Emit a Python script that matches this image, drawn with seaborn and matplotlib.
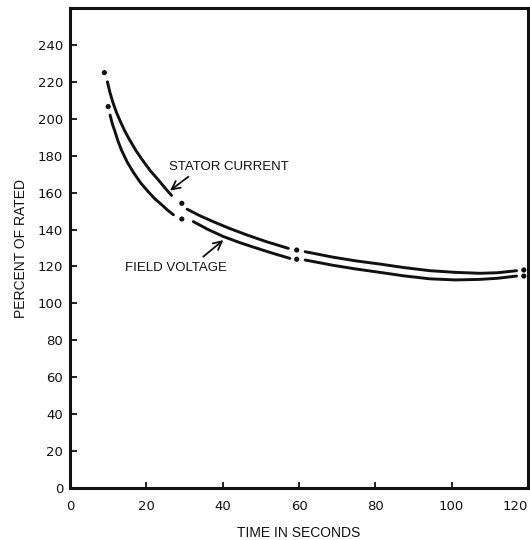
import matplotlib
matplotlib.use("Agg")
import matplotlib.pyplot as plt
import pandas as pd
import seaborn as sns

# ---- data ----
# Stator current: curve segments (gaps around the plotted points)
stator_seg_time = [9.8, 10.5, 11.3, 12.2, 13.1, 14.3, 15.5, 17.3, 19.2, 21.1, 23.1, 24.9, 26.6,
                   30.7, 34.0, 37.5, 41.8, 46.3, 51.5, 57.2,
                   61.6, 69.0, 75.0, 81.2, 87.5, 94.3, 101.0, 107.4, 112.0, 117.0]
stator_seg_pct = [220, 214.0, 208.5, 203.3, 199, 193.6, 189, 182.7, 177, 171.7, 167, 162.5, 158.5,
                  151, 147.5, 144.3, 140.6, 137.1, 133.4, 129.8,
                  128, 125, 123.0, 121.3, 119.4, 117.7, 116.8, 116.3, 116.6, 117.7]
stator_seg_id = [1] * 13 + [2] * 7 + [3] * 10
stator_pt_time = [9.0, 29.3, 59.4, 118.9]
stator_pt_pct = [225, 154.2, 128.9, 118.1]

# Field voltage
field_seg_time = [10.5, 11.1, 11.8, 12.6, 13.5, 15.0, 16.6, 18.5, 20.5, 22.2, 24.0, 25.5, 27.1,
                  32.3, 36.2, 40.2, 44.5, 48.9, 53.2, 57.6,
                  61.6, 69.0, 75.0, 81.2, 87.5, 94.3, 101.0, 107.4, 112.0, 117.0]
field_seg_pct = [202, 197.2, 193, 187.8, 183, 176.5, 171, 165.3, 160.5, 156.7, 153.5, 150.6, 148,
                 144.3, 140.0, 136.2, 132.9, 129.9, 127.1, 124.4,
                 123.5, 120.6, 118.6, 116.8, 114.9, 113.3, 112.7, 113.0, 113.6, 114.8]
field_seg_id = [1] * 13 + [2] * 7 + [3] * 10
field_pt_time = [10.0, 29.3, 59.4, 118.9]
field_pt_pct = [206.6, 145.7, 123.9, 114.8]

x_ticks = [0, 20, 40, 60, 80, 100, 120]
y_ticks = [0, 20, 40, 60, 80, 100, 120, 140, 160, 180, 200, 220, 240]
x_label = "TIME IN SECONDS"
y_label = "PERCENT OF RATED"
stator_label = "STATOR CURRENT"
field_label = "FIELD VOLTAGE"

# ---- build tables ----
curves = pd.concat([
    pd.DataFrame({"time": stator_seg_time, "pct": stator_seg_pct,
                  "unit": [f"s{i}" for i in stator_seg_id]}),
    pd.DataFrame({"time": field_seg_time, "pct": field_seg_pct,
                  "unit": [f"f{i}" for i in field_seg_id]}),
], ignore_index=True)
points = pd.DataFrame({"time": stator_pt_time + field_pt_time,
                       "pct": stator_pt_pct + field_pt_pct})

sns.set_theme(style="white")
plt.rcParams["font.family"] = ["Liberation Sans", "DejaVu Sans"]
ink = "#111111"

fig = plt.figure(figsize=(5.3, 5.4), dpi=100)
ax = fig.add_axes([70 / 530, 52 / 540, 458 / 530, 480 / 540])

sns.lineplot(data=curves, x="time", y="pct", units="unit", estimator=None,
             sort=False, color=ink, lw=2.1, ax=ax, legend=False)
sns.scatterplot(data=points, x="time", y="pct", color=ink, s=14,
                edgecolor="none", ax=ax, legend=False)

ax.set_xlim(0, 120)
ax.set_ylim(0, 260)
ax.set_xticks(x_ticks)
ax.set_yticks(y_ticks)
ax.set_xticklabels([str(t) for t in x_ticks])
ax.set_yticklabels([str(t) for t in y_ticks])
for lab in ax.get_xticklabels() + ax.get_yticklabels():
    lab.set_family(["DejaVu Sans"])
ax.get_xticklabels()[-1].set_horizontalalignment("right")

for s in ax.spines.values():
    s.set_visible(True)
    s.set_linewidth(2.2)
    s.set_color(ink)

ax.tick_params(axis="y", direction="in", length=5, width=1.3, colors=ink,
               labelsize=9.5, pad=5, left=True)
ax.tick_params(axis="x", direction="in", length=4, width=1.3, colors=ink,
               labelsize=9.5, pad=9, bottom=True)

ax.set_xlabel(x_label, fontsize=10, color=ink)
ax.set_ylabel(y_label, fontsize=10, color=ink)
ax.xaxis.set_label_coords(0.5, -0.079)
ax.yaxis.set_label_coords(-0.092, 0.5)

ax.text(26, 174, stator_label, fontsize=9.5, color=ink, ha="left", va="center")
ax.annotate("", xy=(26.2, 161.1), xytext=(31.0, 168.6),
            arrowprops=dict(arrowstyle="->,head_length=0.5,head_width=0.25",
                            lw=1.3, color=ink, shrinkA=0, shrinkB=0))
ax.text(14.4, 119.4, field_label, fontsize=9.5, color=ink, ha="left", va="center")
ax.annotate("", xy=(40.2, 134.3), xytext=(34.9, 125.3),
            arrowprops=dict(arrowstyle="->,head_length=0.5,head_width=0.25",
                            lw=1.3, color=ink, shrinkA=0, shrinkB=0))

fig.savefig("out.png", dpi=100, facecolor="white")
